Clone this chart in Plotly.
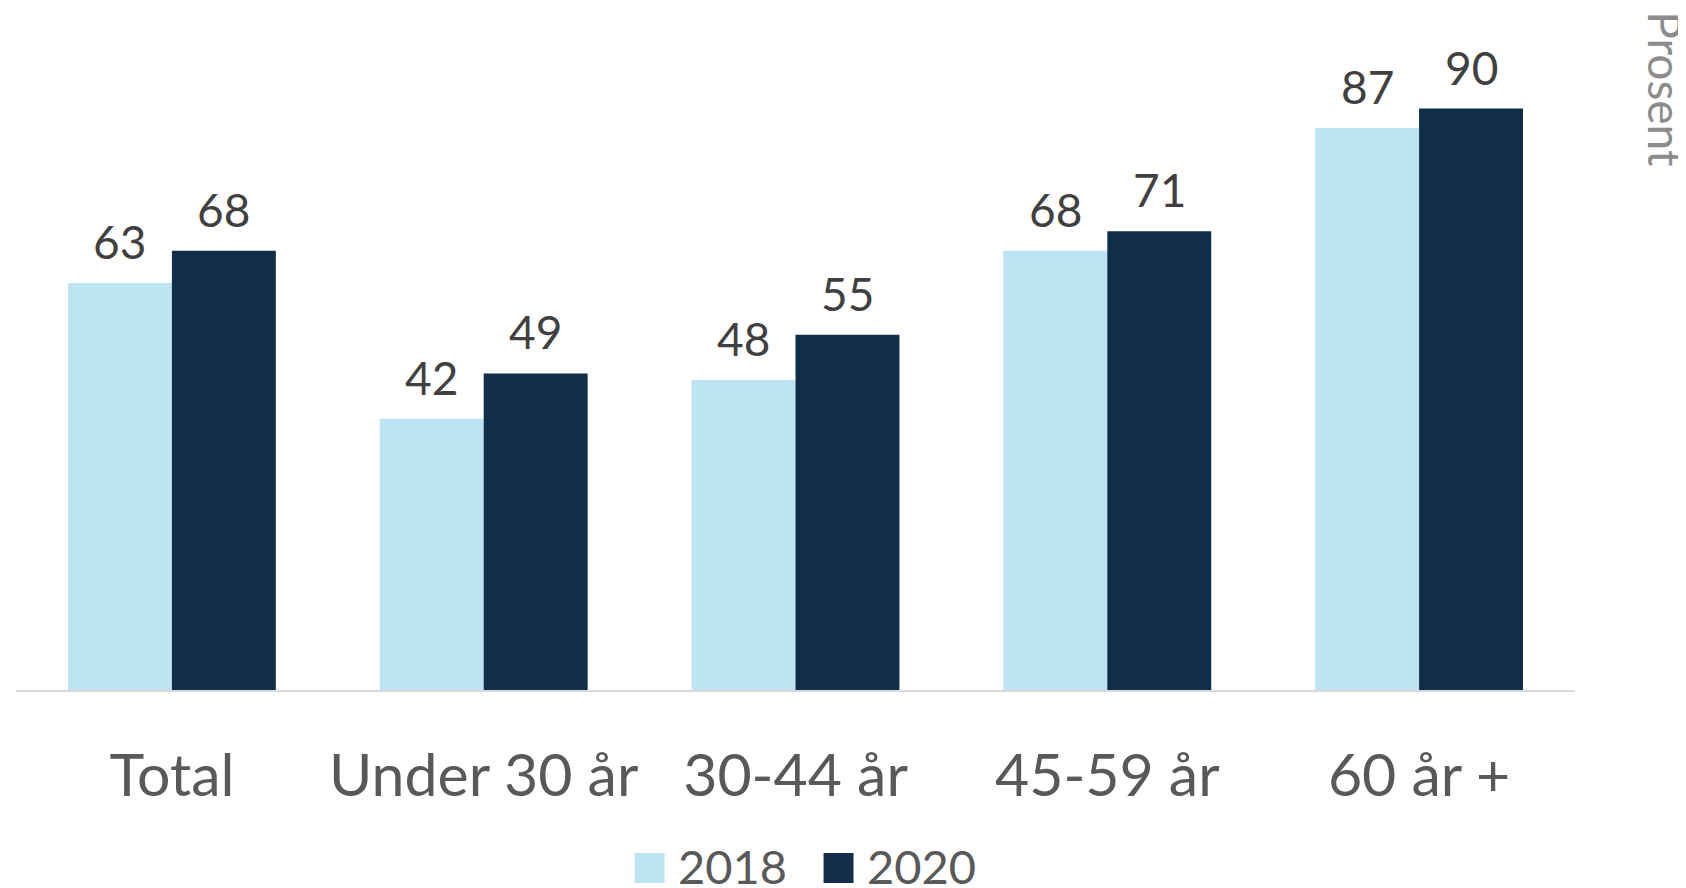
import plotly.graph_objects as go

categories = ["Total", "Under 30 år", "30-44 år", "45-59 år", "60 år +"]
values_2018 = [63, 42, 48, 68, 87]
values_2020 = [68, 49, 55, 71, 90]
series_names = ["2018", "2020"]
unit_label = "Prosent"

FONT = "Lato, Carlito, Calibri, sans-serif"
C_LIGHT = "#BEE3F3"
C_DARK = "#102D4A"
colors = [C_LIGHT, C_DARK]

fig = go.Figure()
fig.add_trace(go.Bar(x=categories, y=values_2018, name=series_names[0],
                     marker=dict(color=C_LIGHT, line=dict(width=0)), showlegend=False))
fig.add_trace(go.Bar(x=categories, y=values_2020, name=series_names[1],
                     marker=dict(color=C_DARK, line=dict(width=0)), showlegend=False))

bargap = 1 / 3
half = (1 - bargap) / 4  # offset of each bar centre from category centre
for i, cat in enumerate(categories):
    for off, v in ((-half, values_2018[i]), (half, values_2020[i])):
        fig.add_annotation(x=i + off, y=v, xref="x", yref="y", text=str(v),
                           showarrow=False, yanchor="bottom", xanchor="center",
                           yshift=12, font=dict(family=FONT, size=46, color="#404040"))

fig.add_annotation(x=1.058, y=1.053, xref="paper", yref="paper", text=unit_label,
                   textangle=90, showarrow=False, xanchor="center", yanchor="top",
                   font=dict(family=FONT, size=46, color="#8C8C8C"))

# legend drawn as squares + labels (paper coordinates)
legend_x = [0.3968, 0.5180]
for name, col, lx in zip(series_names, colors, legend_x):
    fig.add_shape(type="rect", xref="paper", yref="paper",
                  x0=lx, x1=lx + 0.0192, y0=-0.2988, y1=-0.2523,
                  fillcolor=col, line=dict(width=0))
    fig.add_annotation(x=lx + 0.0263, y=-0.2725, xref="paper", yref="paper", text=name,
                       showarrow=False, xanchor="left", yanchor="middle", height=46,
                       font=dict(family=FONT, size=47, color="#595959"))

fig.update_layout(
    width=1686, height=888,
    margin=dict(l=8, r=119, t=36, b=206, autoexpand=False),
    paper_bgcolor="white", plot_bgcolor="white",
    barmode="group", bargap=bargap, bargroupgap=0,
    font=dict(family=FONT, color="#595959"),
    showlegend=False,
)
fig.update_xaxes(showline=True, linecolor="#D9D9D9", linewidth=2, showgrid=False,
                 ticks="", tickfont=dict(family=FONT, size=59, color="#595959"),
                 ticklabelstandoff=33)
fig.update_yaxes(range=[0, 100], visible=False, showgrid=False, zeroline=False)

fig.write_html("out.html")
